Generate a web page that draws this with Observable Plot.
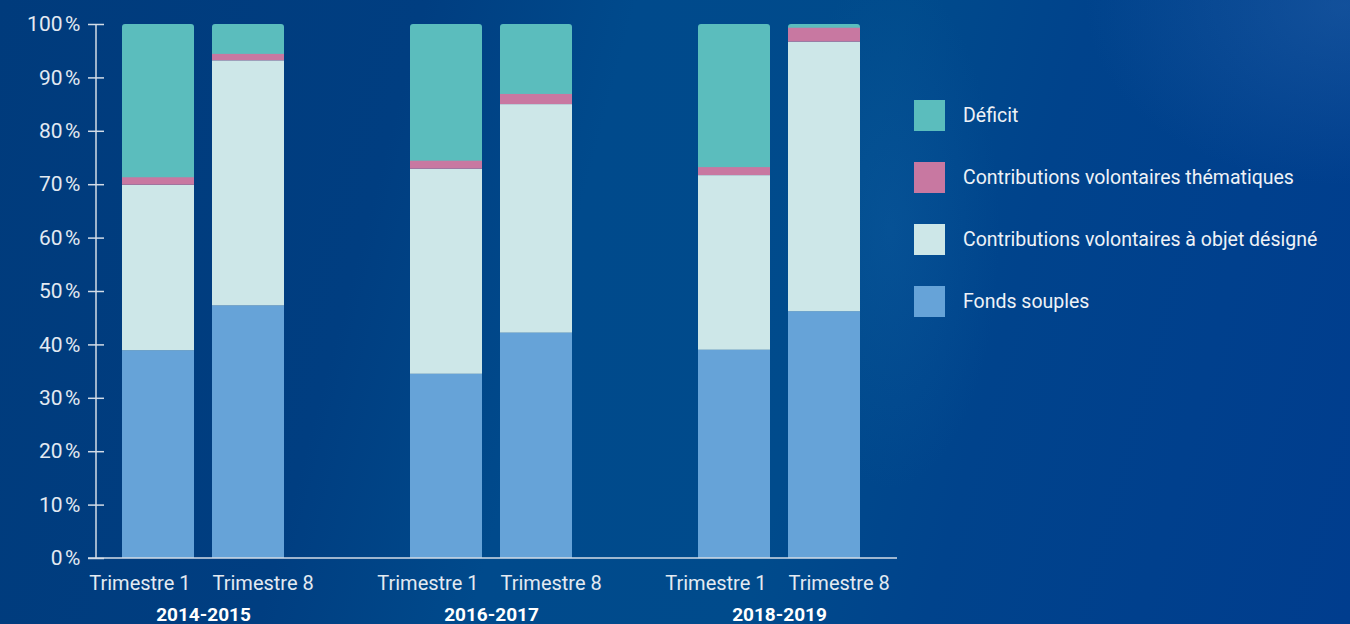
<!DOCTYPE html>
<html lang="fr">
<head>
<meta charset="utf-8">
<script src="https://cdn.jsdelivr.net/npm/d3@7"></script>
<script src="https://cdn.jsdelivr.net/npm/@observablehq/plot@0.6"></script>
<style>
  html, body { margin: 0; padding: 0; }
  body {
    width: 1350px; height: 624px; overflow: hidden; position: relative;
    font-family: Roboto, "Noto Sans", sans-serif;
    background:
      radial-gradient(ellipse 260px 180px at 1345px 5px, rgba(45, 105, 175, 0.4), rgba(45, 105, 175, 0) 100%),
      radial-gradient(ellipse 110px 260px at 890px 230px, rgba(20, 100, 170, 0.3), rgba(20, 100, 170, 0) 100%),
      linear-gradient(105deg, #003b7c 0%, #003e81 28%, #004a8c 42%, #004b8c 60%, #00438c 72%, #003d8e 100%);
  }
  #chart { position: absolute; left: 0; top: 0; }
  #legend { position: absolute; left: 914px; top: 100px; color: #eef2f7; font-size: 19.5px; }
  .row { display: flex; align-items: center; height: 31px; margin-bottom: 31px; }
  .sw { width: 31px; height: 31px; margin-right: 18px; flex: none; }
</style>
</head>
<body>
<div id="chart"></div>
<div id="legend"></div>
<script>
// Periods (facets) and quarters (bars inside each period)
const groups = ["2014-2015", "2016-2017", "2018-2019"];
const quarters = ["Trimestre 1", "Trimestre 8"];

// Funding sources, bottom to top of each stack
const series = [
  "Fonds souples",
  "Contributions volontaires à objet désigné",
  "Contributions volontaires thématiques",
  "Déficit"
];
const colors = ["#66a3d8", "#cde7e8", "#c878a1", "#5bbdbd"];

// Shares in % for bars in order: 2014-15 T1, T8, 2016-17 T1, T8, 2018-19 T1, T8
const fondsSouples = [38.9, 47.3, 34.5, 42.2, 39.0, 46.2];
const objetDesigne = [31.0, 45.9, 38.4, 42.8, 32.7, 50.5];
const thematiques  = [1.4, 1.2, 1.5, 1.9, 1.5, 2.6];
const deficit      = [28.7, 5.6, 25.6, 13.1, 26.8, 0.7];

const yTicks = [0, 10, 20, 30, 40, 50, 60, 70, 80, 90, 100];

// Long table for Plot
const valuesBySeries = [fondsSouples, objetDesigne, thematiques, deficit];
const data = [];
groups.forEach((g, gi) => {
  quarters.forEach((q, qi) => {
    const k = gi * quarters.length + qi;
    series.forEach((s, si) => {
      data.push({group: g, quarter: q, serie: s, value: valuesBySeries[si][k]});
    });
  });
});

const stackOpts = {fx: "group", x: "quarter", y: "value", fill: "serie", order: series};
const textColor = "#e3eaf2";
const lineColor = "#d3dce7";
const xLabel = {tickSize: 0, tickPadding: 17, fontSize: 20, label: null, lineWidth: Infinity, textOverflow: null};

const plot = Plot.plot({
  width: 1350,
  height: 624,
  marginLeft: 122,
  marginRight: 490,
  marginTop: 24,
  marginBottom: 66,
  style: {background: "transparent", color: textColor, fontFamily: "Roboto, 'Noto Sans', sans-serif", overflow: "visible"},
  fx: {domain: groups, paddingInner: 0.4375, paddingOuter: 0, label: null},
  x: {domain: quarters, paddingInner: 0.2, paddingOuter: 0, label: null},
  y: {domain: [0, 100], label: null},
  color: {domain: series, range: colors},
  marks: [
    // top segment with rounded top corners; extended below so the rounding is hidden
    Plot.barY(data, Plot.filter(d => d.serie === "Déficit", Plot.stackY({...stackOpts, rx: 3, insetBottom: -4}))),
    Plot.barY(data, Plot.filter(d => d.serie !== "Déficit", Plot.stackY(stackOpts))),
    Plot.axisY({ticks: yTicks, tickFormat: d => `${d}\u202F%`, tickSize: 16, tickPadding: 8, dx: -18,
                fontSize: 21, label: null, stroke: lineColor, strokeWidth: 1.5}),
    // first quarter label ends near its bar's right edge, the second starts at its bar's left edge
    Plot.axisX([quarters[0]], {...xLabel, textAnchor: "end", dx: 32}),
    Plot.axisX([quarters[1]], {...xLabel, textAnchor: "start", dx: -36}),
    Plot.axisFx({anchor: "bottom", tickSize: 0, tickPadding: 49, fontSize: 19, fontWeight: "bold", label: null,
                 fill: "#ffffff", lineWidth: Infinity, textOverflow: null})
  ]
});

// Axis lines: vertical at the left of the first period, baseline across all periods
const ys = plot.scale("y");
const fxs = plot.scale("fx");
const axisX = fxs.apply(groups[0]) - 26;
const svg = d3.select(plot);
svg.append("line")
  .attr("x1", axisX).attr("x2", axisX)
  .attr("y1", ys.apply(100)).attr("y2", ys.apply(0))
  .attr("stroke", lineColor).attr("stroke-width", 1.5);
svg.append("line")
  .attr("x1", axisX - 8).attr("x2", fxs.apply(groups[groups.length - 1]) + fxs.bandwidth + 37)
  .attr("y1", ys.apply(0)).attr("y2", ys.apply(0))
  .attr("stroke", lineColor).attr("stroke-width", 1.5);

document.getElementById("chart").appendChild(plot);

// Legend, top entry first
const legend = d3.select("#legend");
series.slice().reverse().forEach(s => {
  const row = legend.append("div").attr("class", "row");
  row.append("div").attr("class", "sw").style("background", colors[series.indexOf(s)]);
  row.append("span").text(s);
});
</script>
</body>
</html>
